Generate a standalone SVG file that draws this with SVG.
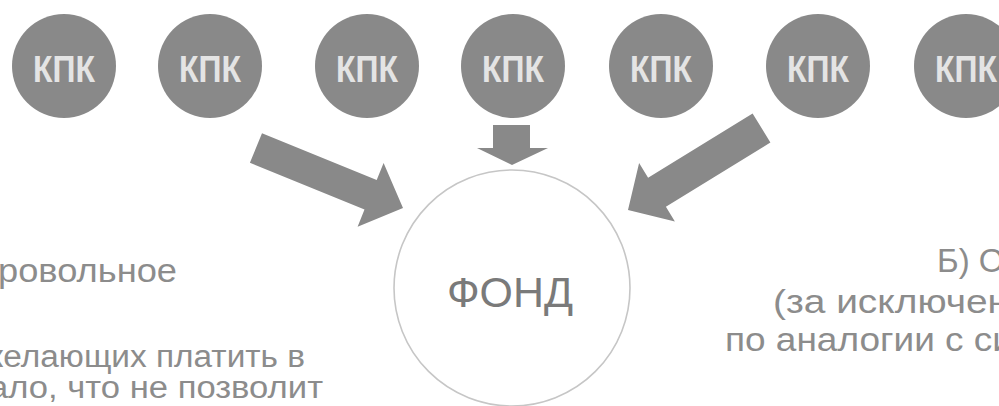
<svg xmlns="http://www.w3.org/2000/svg" width="999" height="406" viewBox="0 0 999 406">
  <style>
    .kpk { fill: #898989; }
    .kpk-t { font-family: "Liberation Sans", Arial, sans-serif; font-weight: bold; font-size: 36px; fill: #e4e4e4; text-anchor: middle; }
    .arrow { fill: #898989; }
    .body { font-family: "Liberation Sans", Arial, sans-serif; font-size: 33px; fill: #8c8c8c; }
    .body-s { font-family: "Liberation Sans", Arial, sans-serif; font-size: 31px; fill: #8c8c8c; }
    .fond-c { fill: #ffffff; stroke: #c6c6c6; stroke-width: 1.6; }
    .fond-t { font-family: "Liberation Sans", Arial, sans-serif; font-size: 42px; fill: #7a7a7a; text-anchor: middle; }
  </style>
  <rect width="999" height="406" fill="#ffffff"/>

  <g id="kpk1"><circle class="kpk" cx="64" cy="66" r="52"/><text class="kpk-t" x="64" y="82" textLength="62" lengthAdjust="spacingAndGlyphs">КПК</text></g>
  <g id="kpk2"><circle class="kpk" cx="210" cy="66" r="52"/><text class="kpk-t" x="210" y="82" textLength="62" lengthAdjust="spacingAndGlyphs">КПК</text></g>
  <g id="kpk3"><circle class="kpk" cx="367" cy="66" r="52"/><text class="kpk-t" x="367" y="82" textLength="62" lengthAdjust="spacingAndGlyphs">КПК</text></g>
  <g id="kpk4"><circle class="kpk" cx="513" cy="66" r="52"/><text class="kpk-t" x="513" y="82" textLength="62" lengthAdjust="spacingAndGlyphs">КПК</text></g>
  <g id="kpk5"><circle class="kpk" cx="661" cy="66" r="52"/><text class="kpk-t" x="661" y="82" textLength="62" lengthAdjust="spacingAndGlyphs">КПК</text></g>
  <g id="kpk6"><circle class="kpk" cx="818" cy="66" r="52"/><text class="kpk-t" x="818" y="82" textLength="62" lengthAdjust="spacingAndGlyphs">КПК</text></g>
  <g id="kpk7"><circle class="kpk" cx="966" cy="66" r="52"/><text class="kpk-t" x="966" y="82" textLength="62" lengthAdjust="spacingAndGlyphs">КПК</text></g>

  <g id="fond">
    <circle class="fond-c" cx="512" cy="288" r="118"/>
    <text class="fond-t" x="510" y="307" textLength="126" lengthAdjust="spacingAndGlyphs">ФОНД</text>
  </g>

  <g id="connectors">
    <polygon class="arrow" points="262,133.2 376.7,180 383.6,162.9 403,208 357.6,226.7 364.5,209.6 249.9,162.8"/>
    <polygon class="arrow" points="493,125 530,125 530,148 548,148 512,165 477,148 493,148"/>
    <polygon class="arrow" points="752.6,113.5 648.1,177.7 639.1,163 628,210 674.9,221.4 665.9,206.7 770.4,142.5"/>
  </g>

  <g id="left-text">
    <text class="body" x="-2" y="282" textLength="179" lengthAdjust="spacingAndGlyphs">ровольное</text>
    <text class="body-s" x="-19" y="367" textLength="324" lengthAdjust="spacingAndGlyphs">желающих платить в</text>
    <text class="body-s" x="-11" y="398" textLength="334" lengthAdjust="spacingAndGlyphs">ало, что не позволит</text>
  </g>

  <g id="right-text">
    <text class="body" x="937" y="272">Б) О</text>
    <text class="body" x="773" y="313" textLength="236" lengthAdjust="spacingAndGlyphs">(за исключен</text>
    <text class="body" x="725" y="351" textLength="288" lengthAdjust="spacingAndGlyphs">по аналогии с си</text>
  </g>
</svg>
